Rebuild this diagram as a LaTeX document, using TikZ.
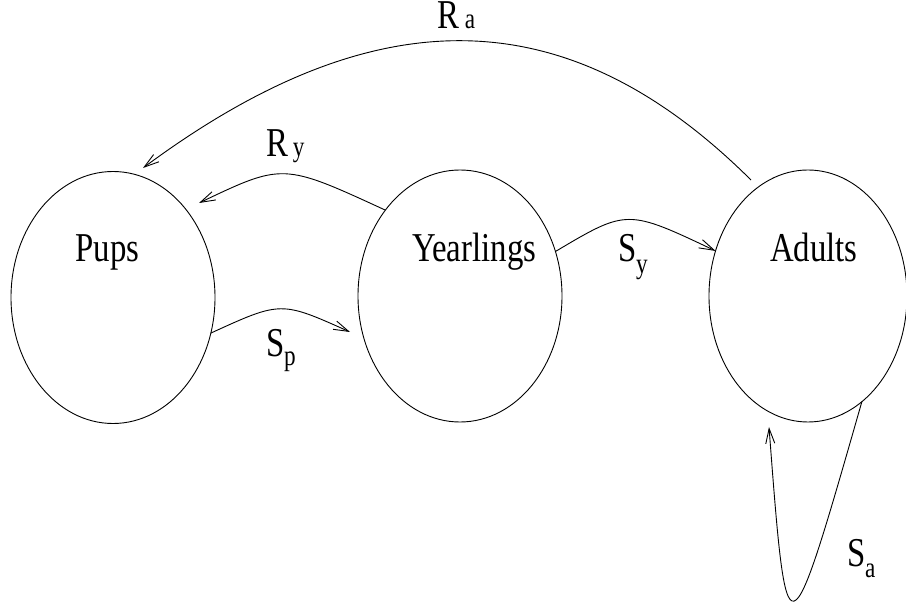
\documentclass[tikz,border=0pt]{standalone}
\usepackage{fontspec}
\usetikzlibrary{shapes.geometric,arrows.meta}
\newfontfamily\figfont[FakeStretch=0.8]{Liberation Serif}
\newcommand{\bigtxt}{\figfont\fontsize{41}{45}\selectfont}
\newcommand{\subtxt}[1]{{\fontsize{29}{32}\selectfont #1}}
\tikzset{
  stage/.style={ellipse, draw, line width=0.9pt, inner sep=0pt, outer sep=0pt,
    minimum width=204pt, minimum height=252pt},
  txt/.style={inner sep=0pt, outer sep=0pt, anchor=base west, font=\bigtxt},
  flow/.style={->, line width=0.9pt}
}
\begin{document}
\begin{tikzpicture}[x=1pt, y=-1pt, >={Straight Barb[length=15pt,width=9pt]}]
\useasboundingbox[fill=white] (0,0) rectangle (906,609);
% stages
\node[stage] (pups) at (113,297.5) {};
\node[stage] (yearlings) at (460,296) {};
\node[stage, minimum width=198pt] (adults) at (808,296) {};
% stage names
\node[txt, anchor=base] (pupsname) at (107.5,262) {Pups};
\node[txt] (yearlingsname) at (412,262) {Yearlings};
\node[txt] (adultsname) at (770,262) {Adults};
% free ends
\coordinate (sptip) at (350,332);
\coordinate (rytip) at (199,203);
\coordinate (rastart) at (751,180);
\coordinate (ratip) at (143,168);
\coordinate (satip) at (769,427);
% connectors
\draw[flow] (pups.-20) .. controls (281,301) and (281,301) .. (sptip);
\draw[flow] (yearlings.131) .. controls (283,163) and (283,163) .. (rytip);
\draw[flow] (yearlings.25) .. controls (627,209) and (627,209) .. (adults.154);
\draw[flow] (rastart) .. controls (566,-4) and (374,-3) .. (ratip);
\draw[flow] (adults.-63) .. controls (787,663) and (787,663) .. (satip);
% labels
\node[txt] (ralabel) at (437,29) {R\hspace{6pt}\subtxt{a}};
\node[txt] (rylabel) at (266,157) {R\hspace{5pt}\subtxt{y}};
\node[txt] (splabel) at (266,357) {S\raisebox{-9pt}{\subtxt{p}}};
\node[txt] (sylabel) at (618,262) {S\raisebox{-12pt}{\subtxt{y}}};
\node[txt] (salabel) at (847,567) {S\raisebox{-11pt}{\subtxt{a}}};
\end{tikzpicture}
\end{document}
